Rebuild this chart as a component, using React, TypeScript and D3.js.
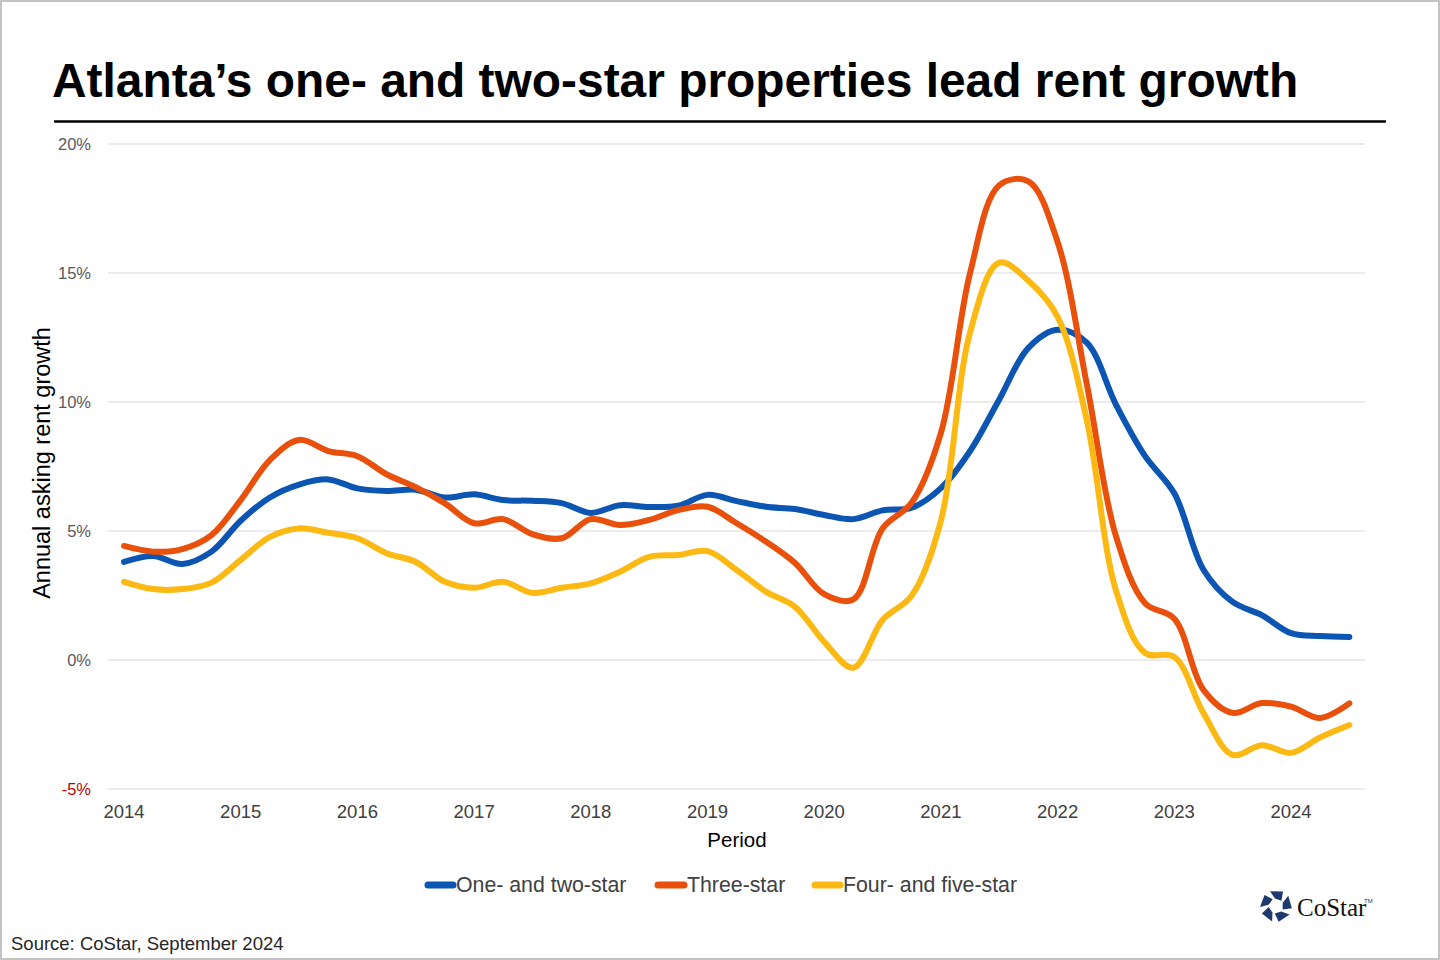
import React from "react";
import * as d3 from "d3";

const periods: string[] = [
  "2014Q1","2014Q2","2014Q3","2014Q4",
  "2015Q1","2015Q2","2015Q3","2015Q4",
  "2016Q1","2016Q2","2016Q3","2016Q4",
  "2017Q1","2017Q2","2017Q3","2017Q4",
  "2018Q1","2018Q2","2018Q3","2018Q4",
  "2019Q1","2019Q2","2019Q3","2019Q4",
  "2020Q1","2020Q2","2020Q3","2020Q4",
  "2021Q1","2021Q2","2021Q3","2021Q4",
  "2022Q1","2022Q2","2022Q3","2022Q4",
  "2023Q1","2023Q2","2023Q3","2023Q4",
  "2024Q1","2024Q2","2024Q3",
];

const oneTwoStar: number[] = [
  3.8, 4.03, 3.72, 4.2,
  5.4, 6.3, 6.8, 7.0,
  6.65, 6.55, 6.6, 6.3,
  6.42, 6.2, 6.17, 6.08,
  5.7, 6.0, 5.93, 5.98,
  6.4, 6.16, 5.94, 5.85,
  5.62, 5.46, 5.8, 5.9,
  6.66, 8.1, 10.1, 12.1,
  12.8, 12.3, 9.9, 7.9,
  6.46, 3.5, 2.25, 1.74,
  1.04, 0.93, 0.89,
];

const threeStar: number[] = [
  4.42, 4.2, 4.3, 4.84,
  6.2, 7.75, 8.53, 8.1,
  7.9, 7.2, 6.7, 6.07,
  5.3, 5.46, 4.88, 4.72,
  5.46, 5.23, 5.43, 5.81,
  5.94, 5.3, 4.59, 3.76,
  2.55, 2.35, 5.1, 6.1,
  8.8, 15.0, 18.4, 18.55,
  16.2, 10.7, 4.8, 2.2,
  1.6, -1.16, -2.05, -1.67,
  -1.81, -2.25, -1.68,
];

const fourFiveStar: number[] = [
  3.03, 2.75, 2.75, 3.0,
  3.88, 4.77, 5.1, 4.93,
  4.72, 4.14, 3.8, 3.03,
  2.8, 3.03, 2.6, 2.8,
  2.97, 3.42, 4.0, 4.07,
  4.22, 3.49, 2.65, 2.06,
  0.7, -0.3, 1.55, 2.5,
  5.4, 12.7, 15.4, 14.7,
  13.3, 9.3, 2.7, 0.27,
  0.12, -2.06, -3.68, -3.3,
  -3.6, -3.0, -2.52,
];

const yTicks: number[] = [-5, 0, 5, 10, 15, 20];
const xTicks: number[] = [2014, 2015, 2016, 2017, 2018, 2019, 2020, 2021, 2022, 2023, 2024];

const seriesNames: string[] = ["One- and two-star", "Three-star", "Four- and five-star"];
const seriesColors: string[] = ["#0c55b3", "#e8500c", "#fdb913"];
const seriesValues: number[][] = [oneTwoStar, threeStar, fourFiveStar];

const titleText = "Atlanta\u2019s one- and two-star properties lead rent growth";
const sourceText = "Source: CoStar, September 2024";

function periodToYear(p: string): number {
  const y = parseInt(p.slice(0, 4), 10);
  const q = parseInt(p.slice(5), 10);
  return y + (q - 1) / 4;
}

export default function App() {
  const W = 1440;
  const H = 960;
  const x = d3.scaleLinear().domain([2014, 2024]).range([124, 1291]);
  const y = d3.scaleLinear().domain([-5, 20]).range([789, 144]);
  const gridX0 = 108;
  const gridX1 = 1365;

  const line = d3
    .line<[number, number]>()
    .x((d) => x(d[0]))
    .y((d) => y(d[1]))
    .curve(d3.curveCatmullRom.alpha(0.5));

  const font = "Arial, 'Liberation Sans', Helvetica, sans-serif";

  const legendItems = [
    { lx: 428, tx: 456 },
    { lx: 658, tx: 687 },
    { lx: 815, tx: 843 },
  ];

  const cx = 1276;
  const cy = 906;
  const blocks = d3.range(5).map((k) => {
    const a0 = ((-90 + 72 * k - 22) * Math.PI) / 180;
    const a1 = ((-90 + 72 * k + 26) * Math.PI) / 180;
    const R = 16;
    const r = 7.5;
    const pts: [number, number][] = [
      [cx + R * Math.cos(a0), cy + R * Math.sin(a0)],
      [cx + R * Math.cos(a1), cy + R * Math.sin(a1)],
      [cx + r * Math.cos(a1 + 0.35), cy + r * Math.sin(a1 + 0.35)],
      [cx + r * Math.cos(a0 + 0.25), cy + r * Math.sin(a0 + 0.25)],
    ];
    return pts.map((p) => p.join(",")).join(" ");
  });

  return (
    <div style={{ position: "absolute", left: 0, top: 0, width: W, height: H, background: "#fff" }}>
      <svg width={W} height={H} viewBox={`0 0 ${W} ${H}`} style={{ display: "block" }}>
        <rect x={0} y={0} width={W} height={H} fill="#ffffff" />
        <rect x={1} y={1} width={W - 2} height={H - 2} fill="none" stroke="#c3c3c3" strokeWidth={2} />

        <text x={52} y={97} fontFamily={font} fontWeight="bold" fontSize={47.9} fill="#000">
          {titleText}
        </text>
        <line x1={54} x2={1386} y1={121.5} y2={121.5} stroke="#000" strokeWidth={2.5} />

        {yTicks.map((t) => (
          <g key={t}>
            <line x1={gridX0} x2={gridX1} y1={y(t)} y2={y(t)} stroke="#d9d9d9" strokeWidth={1} />
            <text
              x={91}
              y={y(t)}
              dy="0.35em"
              textAnchor="end"
              fontFamily={font}
              fontSize={16.5}
              fill={t < 0 ? "#c00000" : "#595959"}
            >
              {`${t}%`}
            </text>
          </g>
        ))}

        {xTicks.map((t) => (
          <text
            key={t}
            x={x(t)}
            y={812}
            dy="0.35em"
            textAnchor="middle"
            fontFamily={font}
            fontSize={18.5}
            fill="#404040"
          >
            {t}
          </text>
        ))}

        <text x={737} y={840} dy="0.35em" textAnchor="middle" fontFamily={font} fontSize={20.5} fill="#000">
          Period
        </text>
        <text
          transform={`translate(42,463) rotate(-90)`}
          dy="0.35em"
          textAnchor="middle"
          fontFamily={font}
          fontSize={23.5}
          fill="#000"
        >
          Annual asking rent growth
        </text>

        {seriesValues.map((vals, i) => {
          const pts: [number, number][] = vals.map((v, j) => [periodToYear(periods[j]), v]);
          return (
            <path
              key={seriesNames[i]}
              d={line(pts) || ""}
              fill="none"
              stroke={seriesColors[i]}
              strokeWidth={6}
              strokeLinejoin="round"
              strokeLinecap="round"
            />
          );
        })}

        {seriesNames.map((name, i) => (
          <g key={name}>
            <line
              x1={legendItems[i].lx}
              x2={legendItems[i].tx - 3}
              y1={885}
              y2={885}
              stroke={seriesColors[i]}
              strokeWidth={7}
              strokeLinecap="round"
            />
            <text
              x={legendItems[i].tx}
              y={885}
              dy="0.35em"
              fontFamily={font}
              fontSize={21.3}
              fill="#404040"
            >
              {name}
            </text>
          </g>
        ))}

        <text x={11} y={950} fontFamily={font} fontSize={18.5} fill="#262626">
          {sourceText}
        </text>

        {blocks.map((b, i) => (
          <polygon key={i} points={b} fill="#1e3a6d" />
        ))}
        <text x={1297} y={916} fontFamily="'Liberation Serif', 'Times New Roman', serif" fontSize={25} fill="#111">
          CoStar
        </text>
        <text x={1364} y={903} fontFamily={font} fontSize={6} fill="#333">
          TM
        </text>
      </svg>
    </div>
  );
}
